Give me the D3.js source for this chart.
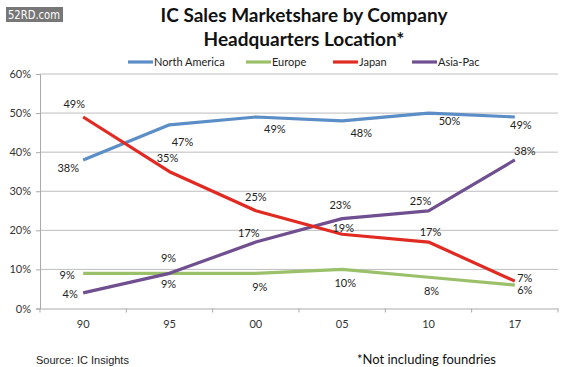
<!DOCTYPE html>
<html><head><meta charset="utf-8">
<script src="https://cdn.jsdelivr.net/npm/d3@7"></script>
<style>body{margin:0;background:#fff}svg{display:block}</style>
</head><body>
<script>
const categories = ["90","95","00","05","10","17"];
const northAmerica = [38,47,49,48,50,49];
const europe = [9,9,9,10,8,6];
const japan = [49,35,25,19,17,7];
const asiaPac = [4,9,17,23,25,38];
const yTicks = [0,10,20,30,40,50,60];
const seriesNames = ["North America","Europe","Japan","Asia-Pac"];
const seriesColors = ["#5b8dc6","#9bc06a","#e02a22","#6f4f8f"];
// label offsets (dx, dy) relative to point, in px
const labelOffsets = [
  [[-15,8],[13,17],[19,12],[19,12],[21,8],[6,8]],
  [[-16,2],[-1,11],[4,14],[3,14],[3,14],[10,5]],
  [[-9,-13],[-2,-14],[0,-14],[1,-6],[2,-10],[10,-3]],
  [[-13,1],[-1,-15],[-7,-9],[-2,-13],[-8,-10],[10,-9]]
];

const W=575,H=367;
const svg=d3.select("body").append("svg").attr("width",W).attr("height",H);
const font="Lato, 'Open Sans', sans-serif";
const x0=40,x1=558,y0=308.5,y1=74;
const x=d3.scaleBand().domain(categories).range([x0,x1]);
const y=d3.scaleLinear().domain([0,60]).range([y0,y1]);

// watermark
svg.append("rect").attr("x",6).attr("y",7).attr("width",57).attr("height",15).attr("fill","#777");
svg.append("text").attr("x",8).attr("y",19).attr("fill","#fff")
  .attr("textLength",52).attr("lengthAdjust","spacingAndGlyphs")
  .attr("font-family","'DejaVu Sans Condensed','Liberation Sans Narrow',sans-serif").attr("font-size",12).text("52RD.com");

// title
const title=svg.append("text").attr("text-anchor","middle").attr("font-family",font).attr("font-weight","bold").attr("font-size",19).attr("fill","#111");
title.append("tspan").attr("x",304).attr("y",22).text("IC Sales Marketshare by Company");
title.append("tspan").attr("x",304).attr("y",46).text("Headquarters Location*");

// gridlines
svg.append("g").selectAll("line").data(yTicks.filter(d=>d>0)).join("line")
  .attr("x1",x0).attr("x2",x1).attr("y1",d=>y(d)).attr("y2",d=>y(d))
  .attr("stroke","#bdbdbd").attr("stroke-width",1);

// y axis
const ya=svg.append("g").attr("transform",`translate(${x0},0)`)
  .call(d3.axisLeft(y).tickValues(yTicks).tickFormat(d=>d+"%").tickSize(4).tickPadding(5));
ya.select(".domain").attr("stroke","#aaa");
ya.selectAll(".tick line").attr("stroke","#aaa");
ya.selectAll("text").attr("font-family",font).attr("font-size",11).attr("fill","#333");

// x axis
const xa=svg.append("g").attr("transform",`translate(0,${y0})`)
  .call(d3.axisBottom(x).tickSize(0).tickPadding(12));
xa.select(".domain").attr("stroke","#aaa");
xa.selectAll("text").attr("font-family",font).attr("font-size",11).attr("fill","#333");
svg.append("g").selectAll("line").data(d3.range(categories.length+1)).join("line")
  .attr("x1",i=>x0+i*x.step()).attr("x2",i=>x0+i*x.step()).attr("y1",y0).attr("y2",y0+4)
  .attr("stroke","#aaa");

// lines
const allSeries=[northAmerica,europe,japan,asiaPac];
const line=d3.line().x((d,i)=>x(categories[i])+x.bandwidth()/2).y(d=>y(d));
const drawOrder=[1,0,3,2];
drawOrder.forEach(s=>{
  svg.append("path").datum(allSeries[s]).attr("d",line).attr("fill","none")
    .attr("stroke",seriesColors[s]).attr("stroke-width",3.2).attr("stroke-linejoin","round");
});
// labels
allSeries.forEach((vals,s)=>{
  svg.append("g").selectAll("text").data(vals).join("text")
    .attr("x",(d,i)=>x(categories[i])+x.bandwidth()/2+labelOffsets[s][i][0])
    .attr("y",(d,i)=>y(d)+labelOffsets[s][i][1])
    .attr("dy","0.35em").attr("text-anchor","middle")
    .attr("font-family",font).attr("font-size",11).attr("fill","#222")
    .text(d=>d+"%");
});

// legend
const legX=[128,246,333,412];
seriesNames.forEach((n,i)=>{
  svg.append("line").attr("x1",legX[i]).attr("x2",legX[i]+25).attr("y1",62).attr("y2",62)
    .attr("stroke",seriesColors[i]).attr("stroke-width",3.2);
  svg.append("text").attr("x",legX[i]+26).attr("y",62).attr("dy","0.35em")
    .attr("font-family",font).attr("font-size",11).attr("fill","#222").text(n);
});

// footer
svg.append("text").attr("x",36).attr("y",364).attr("font-family","'Liberation Sans',Arial,sans-serif")
  .attr("font-size",11).attr("fill","#222").text("Source:  IC Insights");
svg.append("text").attr("x",357).attr("y",364).attr("font-family",font)
  .attr("font-size",13).attr("fill","#111").text("*Not including foundries");
</script>
</body></html>
